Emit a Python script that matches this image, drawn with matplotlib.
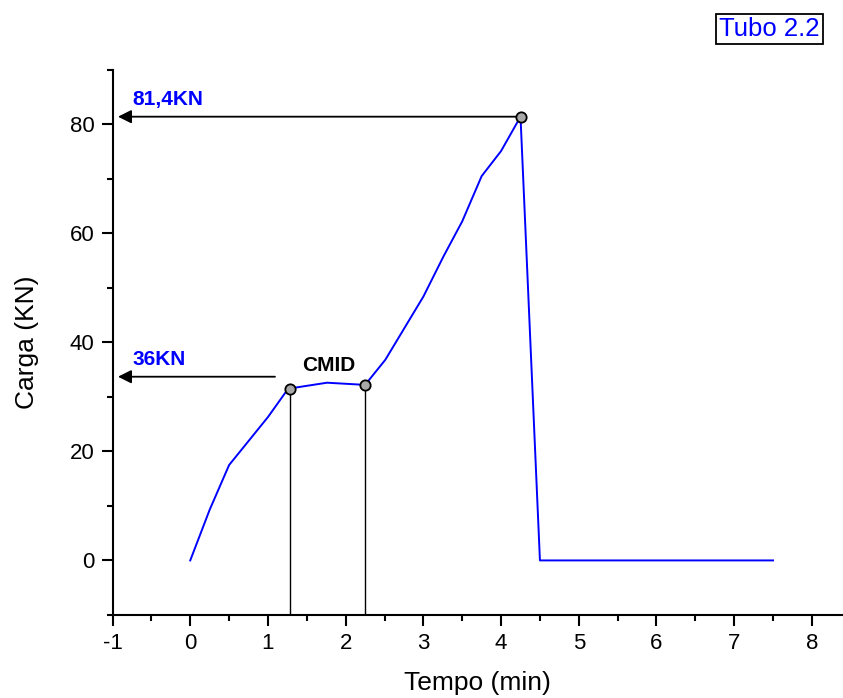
import matplotlib
matplotlib.use('Agg')
import matplotlib.pyplot as plt
from matplotlib.ticker import MultipleLocator

plt.rcParams['font.family'] = ['Liberation Sans', 'DejaVu Sans']
plt.rcParams['axes.unicode_minus'] = False

# Load curve
tempo = [0, 0.25, 0.5, 1.0, 1.26, 1.76, 2.25, 2.51, 3.0, 3.26, 3.5, 3.75, 4.0, 4.25, 4.5, 7.5]
carga = [0, 9.3, 17.5, 26.3, 31.5, 32.6, 32.2, 36.8, 48.4, 55.8, 62.2, 70.5, 75.1, 81.4, 0, 0]

# marked points (CMID start/end and peak)
mark_x = [1.28, 2.25, 4.25]
mark_y = [31.5, 32.2, 81.4]

peak_label = '81,4KN'
cmid_label = '36KN'
arrow_y_cmid = 33.7

fig = plt.figure(figsize=(8.43, 6.98), dpi=100)
ax = fig.add_axes([0.1335, 0.119, 0.8665, 0.781])

ax.plot(tempo, carga, color='blue', lw=1.4, zorder=3)

# vertical drop lines from the CMID markers
for x, y in zip(mark_x[:2], mark_y[:2]):
    ax.plot([x, x], [-10, y], color='black', lw=1.0, zorder=2)

ax.scatter(mark_x, mark_y, s=55, facecolor='#a8a8a8', edgecolor='black', lw=1.3, zorder=4)

# arrows back to the load axis
ax.annotate('', xy=(-0.93, mark_y[2]), xytext=(mark_x[2], mark_y[2]),
            arrowprops=dict(arrowstyle='-|>', color='black', lw=1.3, mutation_scale=20,
                            shrinkA=0, shrinkB=0))
ax.annotate('', xy=(-0.93, arrow_y_cmid), xytext=(1.09, arrow_y_cmid),
            arrowprops=dict(arrowstyle='-|>', color='black', lw=1.3, mutation_scale=20,
                            shrinkA=0, shrinkB=0))

ax.text(-0.74, 84.6, peak_label, color='blue', fontsize=15, fontweight='bold', va='center')
ax.text(-0.74, 36.9, cmid_label, color='blue', fontsize=15, fontweight='bold', va='center')
ax.text(1.78, 35.8, 'CMID', color='black', fontsize=15, fontweight='bold', va='center', ha='center')

ax.set_xlim(-1, 8.4)
ax.set_ylim(-10, 90)
ax.xaxis.set_major_locator(MultipleLocator(1))
ax.xaxis.set_minor_locator(MultipleLocator(0.5))
ax.yaxis.set_major_locator(MultipleLocator(20))
ax.yaxis.set_minor_locator(MultipleLocator(10))
ax.tick_params(which='major', direction='out', length=8, width=1.5, labelsize=16, pad=5)
ax.tick_params(which='minor', direction='out', length=4, width=1.5)
for s in ['top', 'right']:
    ax.spines[s].set_visible(False)
for s in ['left', 'bottom']:
    ax.spines[s].set_linewidth(1.5)

ax.set_xlabel('Tempo (min)', fontsize=19, labelpad=12)
ax.set_ylabel('Carga (KN)', fontsize=19, labelpad=22)

fig.text(0.913, 0.958, 'Tubo 2.2', color='blue', fontsize=18.5, ha='center', va='center',
         bbox=dict(boxstyle='square,pad=0.12', facecolor='white', edgecolor='black', lw=1.3))

fig.savefig('out.png', dpi=100)
